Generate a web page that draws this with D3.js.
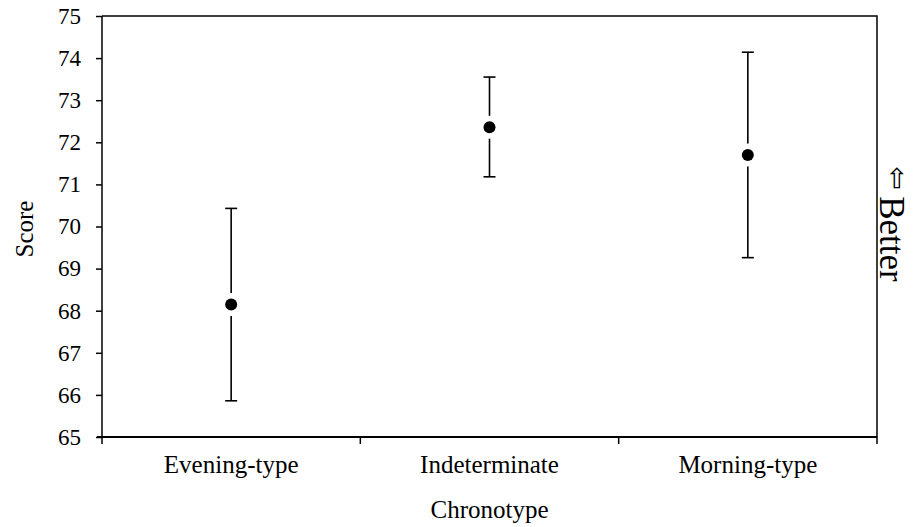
<!DOCTYPE html>
<html><head><meta charset="utf-8">
<script src="https://cdn.jsdelivr.net/npm/d3@7"></script>
<style>body{margin:0;background:#fff}</style>
</head><body>
<svg id="c" width="914" height="527"></svg>
<script>
const categories = ["Evening-type", "Indeterminate", "Morning-type"];
const means = [68.15, 72.36, 71.70];
const upper = [70.43, 73.55, 74.14];
const lower = [65.86, 71.18, 69.26];
const yTicks = [65, 66, 67, 68, 69, 70, 71, 72, 73, 74, 75];

const svg = d3.select("#c");
const L = 102, R = 877, T = 16, B = 437;
const font = "'Liberation Serif', 'Times New Roman', serif";

const x = d3.scaleBand().domain(categories).range([L, R]);
const y = d3.scaleLinear().domain([65, 75]).range([B, T]);

// frame
svg.append("path").attr("d", `M${L},${T}H${R}V${B}`).attr("fill", "none").attr("stroke", "#000").attr("stroke-width", 1.5);

const ya = svg.append("g").attr("transform", `translate(${L},0)`)
  .call(d3.axisLeft(y).tickValues(yTicks).tickSize(6).tickPadding(15).tickFormat(d3.format("d")));
ya.selectAll("path,line").attr("stroke", "#000").attr("stroke-width", 1.5);
ya.select(".domain").attr("d", `M0,${T}V${B}`);
ya.selectAll("text").attr("font-family", font).attr("font-size", 23).attr("fill", "#000");

const xa = svg.append("g").attr("transform", `translate(0,${B})`)
  .call(d3.axisBottom(x).tickSize(0).tickPadding(18));
xa.selectAll("path").attr("stroke", "#000").attr("stroke-width", 2);
xa.select(".domain").attr("d", `M${L - 5},0H${R}`);
xa.selectAll("text").attr("font-family", font).attr("font-size", 25).attr("fill", "#000");
// boundary ticks
const bounds = categories.map(c => x(c)).concat([R]);
xa.selectAll(".bt").data(bounds).enter().append("line")
  .attr("x1", d => d).attr("x2", d => d).attr("y1", 0).attr("y2", 7)
  .attr("stroke", "#000").attr("stroke-width", 1.5);

// error bars
const cx = i => x(categories[i]) + x.bandwidth() / 2;
const g = svg.append("g");
categories.forEach((c, i) => {
  const X = cx(i);
  g.append("line").attr("x1", X).attr("x2", X).attr("y1", y(upper[i])).attr("y2", y(lower[i]))
    .attr("stroke", "#000").attr("stroke-width", 1.6);
  [upper[i], lower[i]].forEach(v => {
    g.append("line").attr("x1", X - 6).attr("x2", X + 6).attr("y1", y(v)).attr("y2", y(v))
      .attr("stroke", "#000").attr("stroke-width", 1.6);
  });
  g.append("circle").attr("cx", X).attr("cy", y(means[i])).attr("r", 11.5).attr("fill", "#fff");
  g.append("circle").attr("cx", X).attr("cy", y(means[i])).attr("r", 6).attr("fill", "#000");
});

// titles
svg.append("text").attr("transform", `translate(33,229) rotate(-90)`)
  .attr("text-anchor", "middle").attr("font-family", font).attr("font-size", 25).text("Score");
svg.append("text").attr("x", (L + R) / 2).attr("y", 518)
  .attr("text-anchor", "middle").attr("font-family", font).attr("font-size", 25).text("Chronotype");
svg.append("text").attr("transform", `translate(880,239) rotate(90)`)
  .attr("text-anchor", "middle").attr("font-family", font).attr("font-size", 35).text("Better");
svg.append("text").attr("transform", `translate(888,178) rotate(90)`)
  .attr("text-anchor", "middle").attr("font-family", "'DejaVu Sans'").attr("font-size", 28).text("⇦");
</script>
</body></html>
